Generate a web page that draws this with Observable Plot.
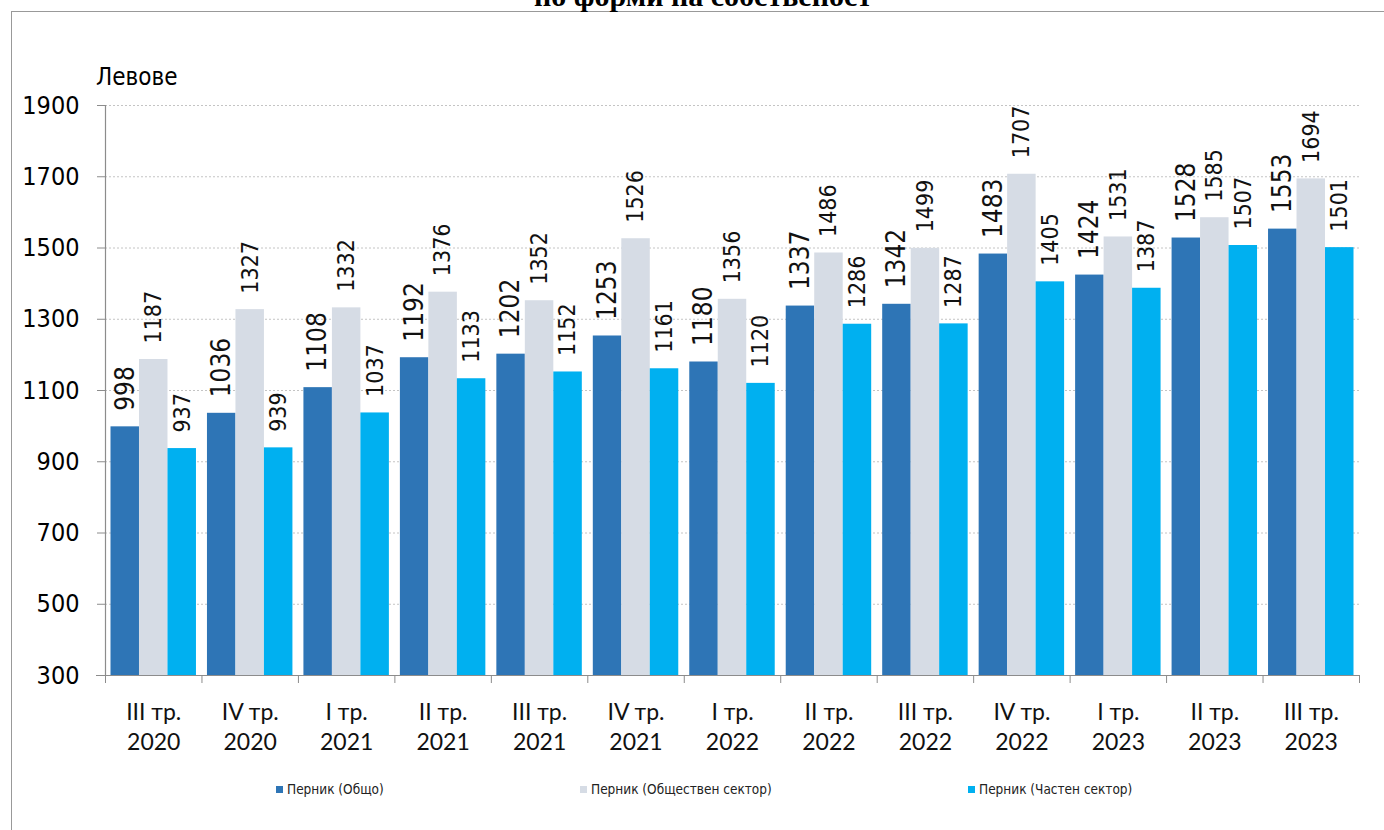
<!DOCTYPE html>
<html><head><meta charset="utf-8">
<script src="https://cdn.jsdelivr.net/npm/d3@7"></script>
<script src="https://cdn.jsdelivr.net/npm/@observablehq/plot@0.6"></script>
<style>
body{margin:0;background:#fff;overflow:hidden;}
#wrap{position:relative;width:1384px;height:830px;overflow:hidden;background:#fff;}
#frame{position:absolute;left:10.5px;top:11px;width:1420px;height:900px;border:1.5px solid #999;box-sizing:border-box;}
#title{position:absolute;left:0;width:1406px;text-align:center;top:-19px;font:bold 30px "Liberation Serif",serif;line-height:30px;white-space:nowrap;}
#ylabel{position:absolute;left:96px;top:65px;font:24px "DejaVu Sans Condensed","DejaVu Sans",sans-serif;line-height:24px;}
#chart{position:absolute;left:0;top:0;}
.leg{position:absolute;top:781px;font:13.5px "DejaVu Sans Condensed","DejaVu Sans",sans-serif;line-height:16px;display:flex;align-items:center;white-space:nowrap;color:#222;}
.leg i{display:inline-block;width:7px;height:7px;margin-right:4px;}
</style></head>
<body><div id="wrap"><div id="frame"></div><div id="title"></div><div id="ylabel"></div><div id="chart"></div><div id="legend"></div></div>
<script>
const titleText = "по форми на собственост";
const yLabel = "Левове";
const quarters = ["III тр.","IV тр.","I тр.","II тр.","III тр.","IV тр.","I тр.","II тр.","III тр.","IV тр.","I тр.","II тр.","III тр."];
const years = ["2020","2020","2021","2021","2021","2021","2022","2022","2022","2022","2023","2023","2023"];
const seriesNames = ["Перник (Общо)","Перник (Обществен сектор)","Перник (Частен сектор)"];
const total = [998,1036,1108,1192,1202,1253,1180,1337,1342,1483,1424,1528,1553];
const publicSector = [1187,1327,1332,1376,1352,1526,1356,1486,1499,1707,1531,1585,1694];
const privateSector = [937,939,1037,1133,1152,1161,1120,1286,1287,1405,1387,1507,1501];
const colors = ["#2E75B6","#D6DCE5","#00B0F0"];
const yTicks = [300,500,700,900,1100,1300,1500,1700,1900];
const legendLeft = [276,580,968];

document.getElementById("title").textContent = titleText;
document.getElementById("ylabel").textContent = yLabel;

const categories = quarters.map((q,i)=>q+"\n"+years[i]);
const W=1384,H=830,mL=105,mR=25,mT=105,mB=155;
const bw=(W-mL-mR)/categories.length;
const gap=11;
const barW=(bw-gap)/3;
const series=[total,publicSector,privateSector];
const rows=series.map((vals,s)=>categories.map((c,i)=>({cat:c,value:vals[i],s})));
const axisColor="#8c8c8c";

const chart = Plot.plot({
  width:W,height:H,marginLeft:mL,marginRight:mR,marginTop:mT,marginBottom:mB,
  style:{fontFamily:"'DejaVu Sans Condensed','DejaVu Sans',sans-serif",color:"#000",background:"transparent"},
  x:{domain:categories,padding:0,round:false,label:null},
  y:{domain:[yTicks[0],yTicks[yTicks.length-1]],label:null},
  marks:[
    Plot.gridY(yTicks.slice(1),{stroke:"#c4c4c4",strokeOpacity:1,strokeDasharray:"2,2"}),
    ...rows.map((data,s)=>Plot.barY(data,{x:"cat",y1:yTicks[0],y2:"value",fill:colors[s],
        insetLeft:gap/2+s*barW,insetRight:bw-gap/2-(s+1)*barW})),
    ...rows.map((data,s)=>Plot.text(data,{x:"cat",y:"value",text:d=>String(d.value),rotate:-90,textAnchor:"start",
        dx:-bw/2+gap/2+(s+0.5)*barW,dy:-16,fontSize:s===0?26:23,fill:"#111"})),
    Plot.ruleY([yTicks[0]],{stroke:axisColor,strokeWidth:1.2,insetLeft:-9}),
    Plot.ruleX([categories[0]],{stroke:axisColor,strokeWidth:1.2,dx:-bw/2,y1:yTicks[0],y2:yTicks[yTicks.length-1]}),
    Plot.axisY({ticks:yTicks,tickFormat:d=>String(d),tickSize:8,tickPadding:18,fontSize:25,stroke:axisColor,fill:"#000",label:null}),
    Plot.axisX({tickSize:8,tickFormat:()=>"",dx:-bw/2,stroke:axisColor,label:null}),
    Plot.axisX({ticks:[categories[categories.length-1]],tickSize:8,tickFormat:()=>"",dx:bw/2,stroke:axisColor,label:null}),
    Plot.axisX({tickSize:0,tickPadding:23,fontSize:23,fontFamily:"Lato",lineHeight:1.3,fill:"#111",label:null})
  ]
});
document.getElementById("chart").appendChild(chart);

const leg=document.getElementById("legend");
seriesNames.forEach((n,i)=>{
  const d=document.createElement("div");d.className="leg";d.style.left=legendLeft[i]+"px";
  const sw=document.createElement("i");sw.style.background=colors[i];
  d.appendChild(sw);d.appendChild(document.createTextNode(n));leg.appendChild(d);
});
</script></body></html>
